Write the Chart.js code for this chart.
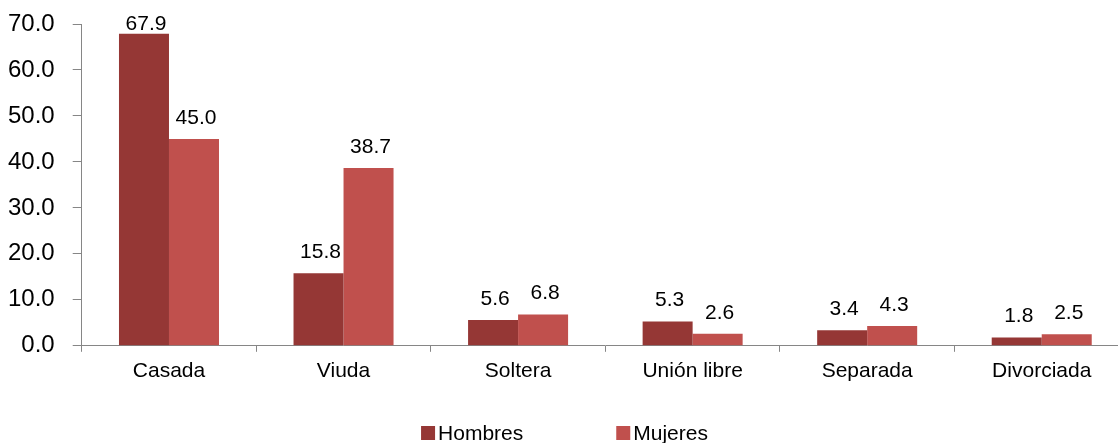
<!DOCTYPE html>
<html>
<head>
<meta charset="utf-8">
<script src="https://cdn.jsdelivr.net/npm/chart.js@4/dist/chart.umd.min.js"></script>
<style>
  html, body { margin: 0; padding: 0; background: #fff; overflow: hidden; }
  #wrap { width: 1118px; height: 443px; overflow: hidden; }
</style>
</head>
<body>
<div id="wrap"><canvas id="estadoCivil" width="1129" height="443"></canvas></div>
<script>
const categories = ['Casada', 'Viuda', 'Soltera', 'Unión libre', 'Separada', 'Divorciada'];
const hombres = [67.9, 15.8, 5.6, 5.3, 3.4, 1.8];
const mujeres = [45.0, 38.7, 6.8, 2.6, 4.3, 2.5];
const yMin = 0;
const yMax = 70;
const yStep = 10;

const FONT = "'Liberation Sans', Arial, sans-serif";

// etiquetas de valor sobre cada barra
const valueLabels = {
    id: 'valueLabels',
    afterDatasetsDraw(chart) {
        const ctx = chart.ctx;
        ctx.save();
        ctx.font = '21px ' + FONT;
        ctx.fillStyle = '#000';
        ctx.textAlign = 'center';
        ctx.textBaseline = 'middle';
        chart.data.datasets.forEach((ds, i) => {
            chart.getDatasetMeta(i).data.forEach((bar, j) => {
                const y = Math.max(bar.y - 21, chart.chartArea.top);
                ctx.fillText(ds.data[j].toFixed(1), bar.x + 2, y);
            });
        });
        ctx.restore();
    }
};

// leyenda abajo, centrada
const bottomLegend = {
    id: 'bottomLegend',
    afterDraw(chart) {
        const ctx = chart.ctx;
        ctx.save();
        ctx.font = '21px ' + FONT;
        ctx.textBaseline = 'middle';
        const box = 14, gapText = 3, gapItem = 93;
        const items = chart.data.datasets.map(ds => ({
            label: ds.label, color: ds.backgroundColor,
            w: box + gapText + ctx.measureText(ds.label).width
        }));
        const total = items.reduce((s, it) => s + it.w, 0) + gapItem * (items.length - 1);
        let x = chart.width / 2 - total / 2;
        const yc = 433;
        items.forEach(it => {
            ctx.fillStyle = it.color;
            ctx.fillRect(x, yc - box / 2, box, box);
            ctx.fillStyle = '#000';
            ctx.fillText(it.label, x + box + gapText, yc + 1);
            x += it.w + gapItem;
        });
        ctx.restore();
    }
};

new Chart(document.getElementById('estadoCivil').getContext('2d'), {
    type: 'bar',
    data: {
        labels: categories,
        datasets: [
            { label: 'Hombres', data: hombres, backgroundColor: '#953735' },
            { label: 'Mujeres', data: mujeres, backgroundColor: '#C0504D' }
        ]
    },
    options: {
        responsive: false,
        animation: false,
        layout: { padding: { top: 24, left: -10, right: 0, bottom: 52 } },
        datasets: {
            bar: { barPercentage: 1.0, categoryPercentage: 0.573 }
        },
        plugins: {
            legend: { display: false },
            tooltip: { enabled: false }
        },
        scales: {
            x: {
                offset: true,
                grid: { offset: true, drawOnChartArea: false, tickLength: 6, color: '#868686' },
                border: { color: '#868686', width: 1 },
                ticks: { color: '#000', font: { size: 21, family: FONT }, padding: 7 }
            },
            y: {
                min: yMin,
                max: yMax,
                afterFit: s => { s.paddingTop = 0; },
                ticks: {
                    stepSize: yStep,
                    color: '#000',
                    font: { size: 24, family: FONT },
                    padding: 18,
                    callback: v => Number(v).toFixed(1)
                },
                grid: { drawOnChartArea: false, tickLength: 9, color: '#868686' },
                border: { color: '#868686', width: 1 }
            }
        }
    },
    plugins: [valueLabels, bottomLegend]
});
</script>
</body>
</html>
